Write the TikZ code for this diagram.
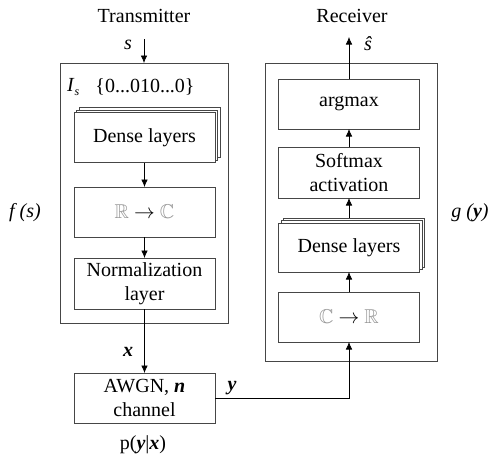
\documentclass[tikz,border=0pt]{standalone}
\usepackage{fontspec}
\setmainfont{Liberation Serif}
\usepackage{amssymb}
\usetikzlibrary{shadows,arrows.meta}
\definecolor{boxgray}{RGB}{70,70,70}
\definecolor{lightg}{RGB}{150,150,150}
\begin{document}
\begin{tikzpicture}[x=1pt,y=-1pt,
  font=\fontsize{20}{23.5}\selectfont,
  outerbox/.style={draw=boxgray, line width=0.8pt, inner sep=0pt, outer sep=0pt},
  blk/.style={draw=boxgray, line width=0.8pt, fill=white, minimum width=141pt,
    minimum height=50pt, align=center, inner sep=0pt, outer sep=0pt},
  stack/.style={blk, double copy shadow={shadow xshift=2.5pt, shadow yshift=2.5pt, draw=boxgray, line width=0.8pt, fill=white}},
  arr/.style={-{Latex[length=7.5pt,width=6.5pt]}, line width=0.7pt, black}]
\useasboundingbox (0,0) rectangle (491,463);

\node[outerbox, minimum width=168pt, minimum height=260pt] (tx) at (144,193) {};
\node[outerbox, minimum width=172pt, minimum height=298pt] (rx) at (351,212) {};

\node (ttl) at (144,16) {Transmitter};
\node (rtl) at (352,16) {Receiver};

\node[stack] (tdense) at (144.5,137.5) {Dense layers};
\node[blk] (rc) at (144.5,212) {{\color{lightg}$\mathbb{R}$} $\rightarrow$ {\color{lightg}$\mathbb{C}$}};
\node[blk, minimum height=51pt] (norm) at (144.5,283.5) {Normalization\\layer};
\node[blk] (awgn) at (144.5,398) {AWGN, \textbf{\textit{n}}\\channel};

\node[blk] (argmax) at (349,104) {argmax};
\node[blk, minimum height=51pt] (soft) at (349,172.5) {Softmax\\activation};
\node[stack, minimum height=49pt] (rdense) at (349,247.5) {Dense layers};
\node[blk] (cr) at (349,317) {{\color{lightg}$\mathbb{C}$} $\rightarrow$ {\color{lightg}$\mathbb{R}$}};

\coordinate (sin) at (144,39);
\coordinate (sout) at (349,37);
\draw[arr] (sin) -- (tx.north);
\draw[arr] (tdense.south) -- (rc.north);
\draw[arr] (rc.south) -- (norm.north);
\draw[arr] (norm.south) -- (awgn.north);
\draw[arr] (awgn.east) -| (cr.south);
\draw[arr] (cr.north) -- (rdense.south);
\draw[arr] ([yshift=5pt]rdense.north) -- (soft.south);
\draw[arr] (soft.north) -- (argmax.south);
\draw[arr] (argmax.north) -- (sout);

\node (slab) at (128,45) {\textit{s}};
\node (shat) at (368,44) {\textit{ŝ}};
\node[anchor=west, inner sep=0pt] (is) at (67,87) {\textit{I}\raisebox{-4pt}{\fontsize{12}{12}\selectfont\textit{s}}};
\node (onehot) at (145,87) {\{0...010...0\}};
\node (fs) at (25,213) {\textit{f (s)}};
\node (gy) at (470,213) {\textit{g (\textbf{y})}};
\node (xl) at (128,352) {\textbf{\textit{x}}};
\node (yl) at (232,388) {\textbf{\textit{y}}};
\node (pyx) at (143,445) {p(\textbf{\textit{y}}|\textbf{\textit{x}})};
\end{tikzpicture}
\end{document}
